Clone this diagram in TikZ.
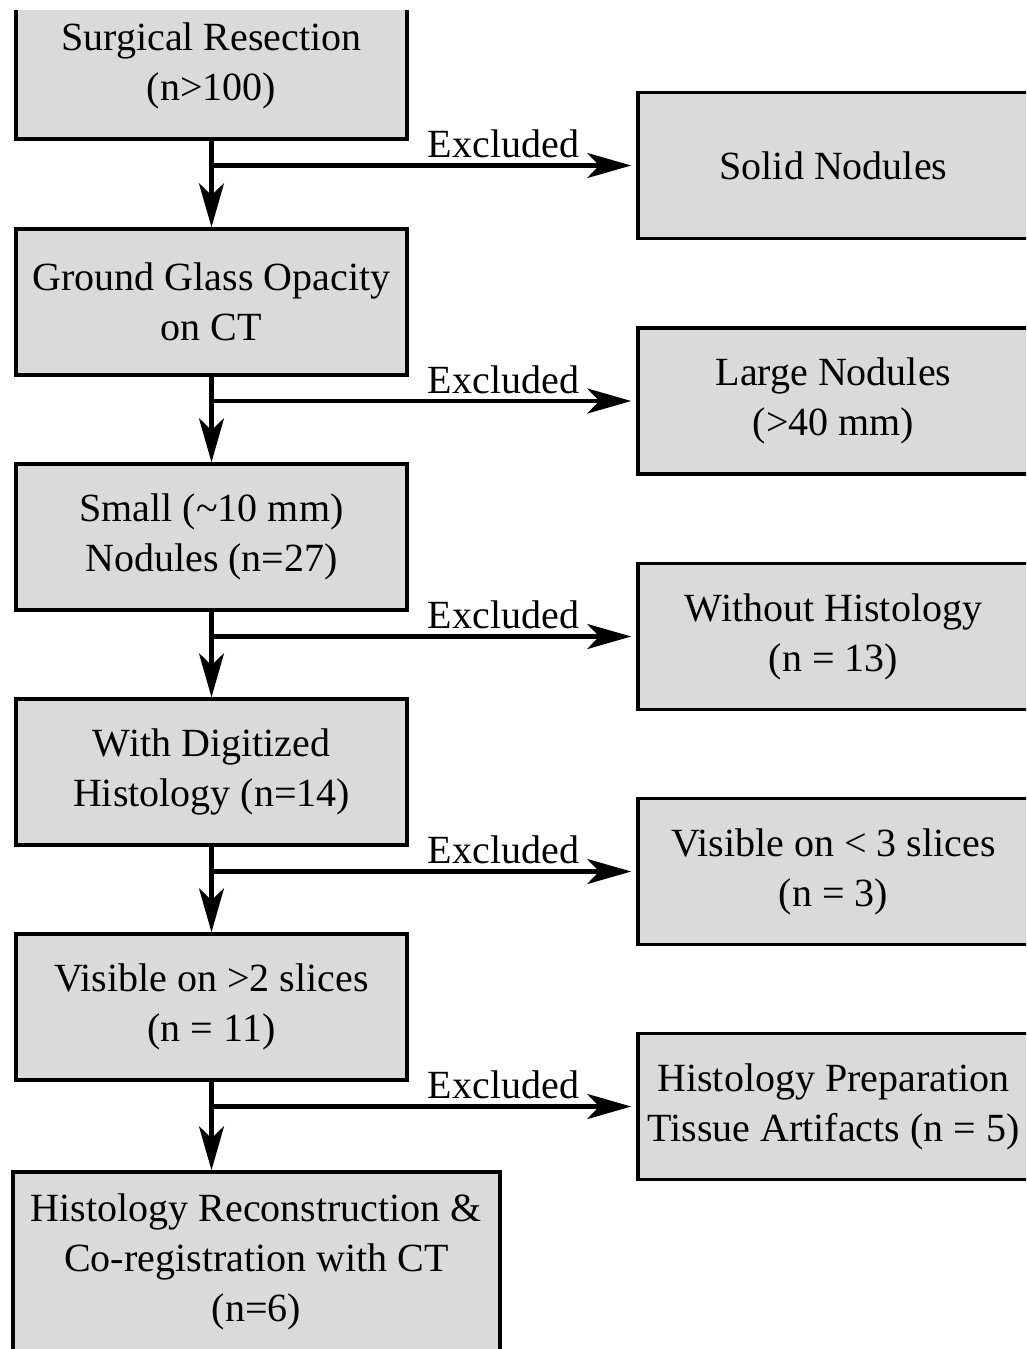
\documentclass[tikz,border=0pt]{standalone}
\usepackage{fontspec}
\setmainfont{Liberation Serif}
\usetikzlibrary{arrows.meta}
\definecolor{boxgray}{RGB}{218,218,218}
\begin{document}
\begin{tikzpicture}[x=1pt,y=-1pt,
  box/.style={draw=black, line width=3.5pt, fill=boxgray, minimum width=391pt,
    minimum height=146pt, align=center, font=\fontsize{40}{50}\selectfont, inner sep=0pt},
  flow/.style={line width=4.5pt, -{Stealth[length=44pt,width=25pt,inset=12pt]}},
  exlab/.style={font=\fontsize{40}{50}\selectfont, anchor=base, inner sep=0pt}]
\useasboundingbox (0,0) rectangle (1026,1349);
\clip (0,10) rectangle (1026,1349);
% left column
\node[box] (b1) at (211.5,66) {Surgical Resection\\(n>100)};
\node[box] (b2) at (211.5,302) {Ground Glass Opacity\\on CT};
\node[box] (b3) at (211.5,537) {Small (\textasciitilde10 mm)\\Nodules (n=27)};
\node[box] (b4) at (211.5,772) {With Digitized\\Histology (n=14)};
\node[box] (b5) at (211.5,1007) {Visible on >2 slices\\(n = 11)};
\node[box, minimum width=487pt, minimum height=180pt] (b6) at (256.5,1262)
  {Histology Reconstruction \&\\Co-registration with CT\\(n=6)};
% right column
\node[box] (r1) at (833.5,165.5) {Solid Nodules};
\node[box] (r2) at (833.5,401) {Large Nodules\\(>40 mm)};
\node[box] (r3) at (833.5,636.5) {Without Histology\\(n = 13)};
\node[box] (r4) at (833.5,871.5) {Visible on < 3 slices\\(n = 3)};
\node[box] (r5) at (833.5,1106.5) {Histology Preparation\\Tissue Artifacts (n = 5)};
% junctions
\coordinate (j1) at (b1.south |- r1.west);
\coordinate (j2) at (b2.south |- r2.west);
\coordinate (j3) at (b3.south |- r3.west);
\coordinate (j4) at (b4.south |- r4.west);
\coordinate (j5) at (b5.south |- r5.west);
% vertical arrows
\draw[flow] (b1.south) -- (b1.south |- b2.north);
\draw[flow] (b2.south) -- (b2.south |- b3.north);
\draw[flow] (b3.south) -- (b3.south |- b4.north);
\draw[flow] (b4.south) -- (b4.south |- b5.north);
\draw[flow] (b5.south) -- (b5.south |- b6.north);
% horizontal arrows
\foreach \i in {1,...,5}{
  \draw[flow, shorten >=5pt] (j\i) -- (r\i.west);
  \node[exlab] (e\i) at ([xshift=292pt,yshift=8pt]j\i) {Excluded};
}
\end{tikzpicture}
\end{document}
